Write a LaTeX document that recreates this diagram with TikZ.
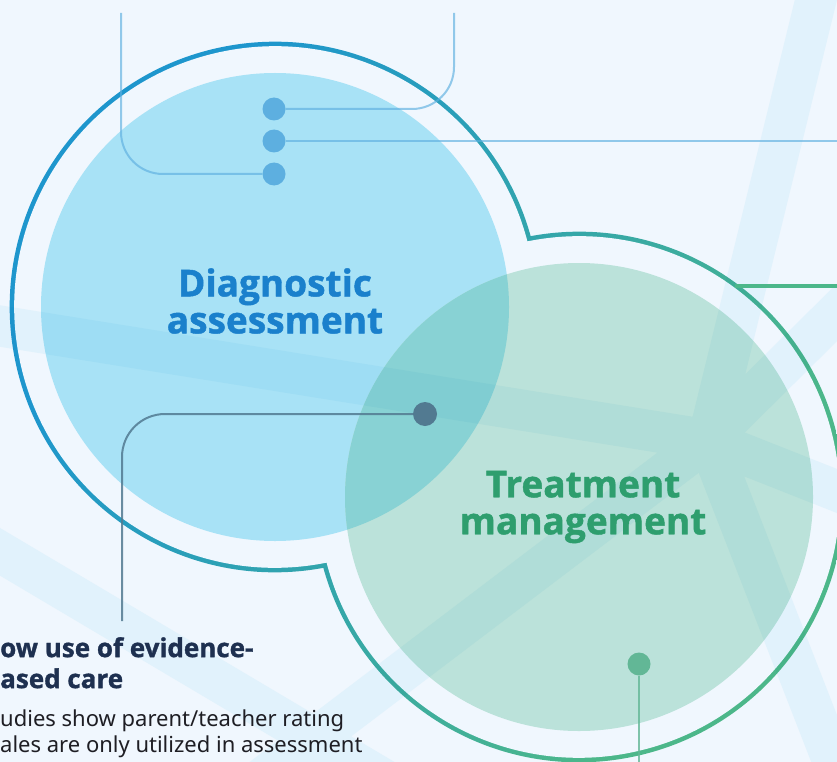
\documentclass[tikz,border=0pt]{standalone}
\usepackage{fontspec}
\setmainfont{Noto Sans}
\newfontfamily\titlefont{Open Sans}[FakeBold=1.2]
\usetikzlibrary{calc}
\definecolor{bgc}{RGB}{240,247,254}
\definecolor{discblue}{RGB}{168,226,246}
\definecolor{discgreen}{RGB}{187,226,218}
\definecolor{overlapc}{RGB}{136,210,212}
\definecolor{ringblue}{RGB}{30,150,205}
\definecolor{ringteal}{RGB}{50,165,172}
\definecolor{ringgreen}{RGB}{76,183,138}
\definecolor{bandc}{RGB}{240,250,253}
\definecolor{dotblue}{RGB}{93,175,224}
\definecolor{dotslate}{RGB}{82,122,145}
\definecolor{dotgreen}{RGB}{98,183,150}
\definecolor{titleblue}{RGB}{26,128,204}
\definecolor{titlegreen}{RGB}{46,158,110}
\definecolor{navyc}{RGB}{30,48,80}
\definecolor{bodyc}{RGB}{30,30,36}
\pgfdeclarehorizontalshading{ringshade}{100bp}{color(0bp)=(ringblue); color(30bp)=(ringblue); color(50bp)=(ringteal); color(70bp)=(ringgreen); color(100bp)=(ringgreen)}
\begin{document}
\begin{tikzpicture}[x=1pt,y=-1pt,
  dotnode/.style={circle, inner sep=0pt, minimum size=23pt},
  bluelink/.style={draw=dotblue, line width=2pt, opacity=0.65},
  slatelink/.style={draw=dotslate, line width=2pt, opacity=0.85},
  greenlink/.style={draw=dotgreen, line width=2pt, opacity=0.8},
  bandline/.style={draw=bandc, line width=41pt, line cap=round},
  titletext/.style={font=\titlefont\bfseries\fontsize{37pt}{37pt}\selectfont, align=center, inner sep=0pt}]
\useasboundingbox (0,0) rectangle (837,762);
\clip (0,0) rectangle (837,762);
\fill[bgc] (0,0) rectangle (837,762);

\coordinate (C1) at (275,307);
\coordinate (C2) at (579,497);
\pgfmathsetmacro\th{32.005}
\pgfmathsetmacro\ao{acos(179.246/265.3)}
\pgfmathsetmacro\ai{acos(179.246/260.8)}

% outline ring (union of two circles), gradient blue -> green
\shade[shading=ringshade, shading angle=-32]
  ($(C1)+({\th+\ao}:265.3)$) arc[start angle={\th+\ao}, end angle={\th+360-\ao}, radius=265.3]
  arc[start angle={\th+180+\ao}, end angle={\th+540-\ao}, radius=265.3] -- cycle;
\fill[bgc]
  ($(C1)+({\th+\ai}:260.8)$) arc[start angle={\th+\ai}, end angle={\th+360-\ai}, radius=260.8]
  arc[start angle={\th+180+\ai}, end angle={\th+540-\ai}, radius=260.8] -- cycle;

% discs
\fill[discblue] (C1) circle[radius=234];
\fill[discgreen] (C2) circle[radius=234];
\begin{scope}
  \clip (C1) circle[radius=234];
  \fill[overlapc] (C2) circle[radius=234];
\end{scope}

% faint background bands
\coordinate (H) at (708,440);
\begin{scope}[blend mode=multiply]
  \draw[bandline] (H) -- (822,-25) (H) -- (-25,322) (H) -- (880,508) (H) -- (900,250)
    (H) -- (848,800) (H) -- (240,795) (-30,534) -- (410,795);
\end{scope}

% green connector from the ring
\coordinate (g0) at (735,286);
\coordinate (g1) at (840,286);
\draw[ringgreen, line width=4.5pt] (g0) -- (g1);

% top dots and connectors
\node[dotnode, fill=dotblue] (d1) at (274,109) {};
\node[dotnode, fill=dotblue] (d2) at (274,141) {};
\node[dotnode, fill=dotblue] (d3) at (274,174) {};
\coordinate (e1) at (454,13);
\coordinate (e2) at (840,141);
\coordinate (e3) at (121,13);
\draw[bluelink, rounded corners=42pt] (d1) -| (e1);
\draw[bluelink] (d2) -- (e2);
\draw[bluelink, rounded corners=42pt] (d3) -| (e3);

% middle dot
\node[dotnode, fill=dotslate, minimum size=24pt] (dm) at (425,414) {};
\coordinate (em) at (122,621);
\draw[slatelink, rounded corners=43pt] (dm) -| (em);

% bottom green dot
\node[dotnode, fill=dotgreen] (dg) at (639,664) {};
\coordinate (eg) at (639,766);
\draw[greenlink] (dg) -- (eg);

% titles
\node[titletext, text=titleblue] (diag) at (275,301) {Diagnostic\\assessment};
\node[titletext, text=titlegreen] (treat) at (583,507) {Treatment\\management};

% bottom-left text
\node[anchor=north west, inner sep=0pt, align=left, text=navyc,
  font=\titlefont\bfseries\fontsize{26pt}{31pt}\selectfont] (head) at (0,637) {ow use of evidence-\\ased care};
\node[anchor=north west, inner sep=0pt, align=left, text=bodyc,
  font=\fontsize{22pt}{26pt}\selectfont] (body) at (0,710) {udies show parent/teacher rating\\ales are only utilized in assessment};
\end{tikzpicture}
\end{document}
